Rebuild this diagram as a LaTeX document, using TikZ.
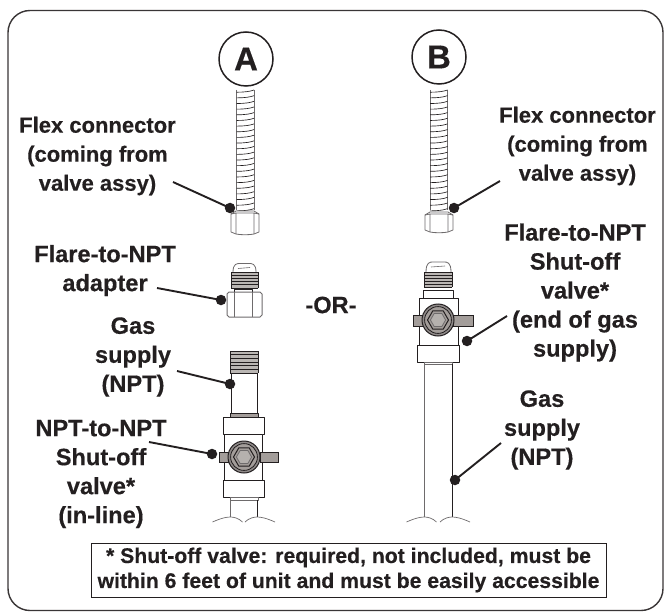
\documentclass[tikz,border=0pt]{standalone}
\usepackage{fontspec}
\setmainfont{Liberation Sans}[BoldFeatures={FakeBold=0.35}]
\usetikzlibrary{calc}
\definecolor{ink}{HTML}{231F20}
\definecolor{hand}{HTML}{A39D9A}
\definecolor{soft}{HTML}{6E6B6C}
\tikzset{
  x=1pt,y=-1pt,
  lab/.style={align=center,text=ink,inner sep=0pt,font=\fontsize{23.6}{29}\selectfont\bfseries},
  flexlab/.style={lab,font=\fontsize{22}{29}\selectfont\bfseries},
  dot/.style={circle,fill=ink,draw=none,minimum size=10.5pt,inner sep=0pt},
  leader/.style={draw=ink,line width=1.9pt},
  part/.style={draw=ink,line width=1pt,line join=round,fill=white},
  thin part/.style={draw=soft,line width=.8pt,line join=round},
  badge/.style={circle,draw=ink,line width=1.5pt,minimum size=54pt,inner sep=0pt,text=ink,font=\fontsize{33}{33}\selectfont\bfseries},
  pipe end/.style={draw=soft,line width=.7pt}
}
% flex hose: x1 x2 y1 y2
\newcommand{\flexhose}[4]{%
  \draw[thin part] (#1,#3) -- (#1,#4) (#2,#3) -- (#2,#4);
  \pgfmathsetmacro{\midx}{(#1+#2)/2}
  \foreach \k in {0,...,21}{
    \pgfmathsetmacro{\yy}{#3+5.65*\k}
    \draw[draw=ink,line width=.65pt] (#1,\yy+2.2) .. controls (\midx,\yy+2.2) and (\midx+5,\yy+1.4) .. (#2,\yy);
  }}
% hex nut of a hose: left right top bottom
\newcommand{\hosenut}[4]{%
  \draw[thin part,fill=white] (#1+5,#3) -- (#2-5,#3) -- (#2,#3+3) -- (#2,#4-3) -- (#2-5,#4-1) .. controls (#2-9,#4) and (#1+9,#4) .. (#1+5,#4-1) -- (#1,#4-3) -- (#1,#3+3) -- cycle;
  \draw[thin part] (#1+5,#3+2) -- (#1+5,#4-1) (#2-5,#3+2) -- (#2-5,#4-1) (#1,#3+3) -- (#1+5,#3+2) -- (#2-5,#3+2) -- (#2,#3+3);}
% thread stack: left right top bottom count
\newcommand{\threadstack}[5]{%
  \fill[hand!75] (#1,#3) rectangle (#2,#4);
  \draw[draw=ink,line width=.9pt] (#1,#3) -- (#1,#4) (#2,#3) -- (#2,#4);
  \foreach \k in {0,...,#5}{
    \pgfmathsetmacro{\yy}{#3+(#4-#3)*\k/#5}
    \draw[draw=ink,line width=.9pt] (#1,\yy) -- (#2,\yy);}}
% flare dome: left right top bottom
\newcommand{\flaredome}[4]{%
  \draw[thin part] (#1,#4) .. controls (#1,#3) and (#1+4,#3) .. (#1+7,#3) -- (#2-7,#3) .. controls (#2-4,#3) and (#2,#3) .. (#2,#4);
  \draw[draw=soft,line width=.6pt] (#1+5,#3+5) -- (#2-6,#3+4);}
% valve face: cx cy l1 l2 r1 r2 top bottom
\newcommand{\valveface}[8]{%
  \draw[draw=ink,line width=.8pt,fill=hand] (#3,#7) rectangle (#4,#8);
  \draw[draw=ink,line width=.8pt,fill=hand] (#5,#7) rectangle (#6,#8);
  \begin{scope}[shift={(#1,#2)}]
    \draw[draw=ink,line width=1pt,fill=hand!60!soft] (0,0) circle[radius=16pt];
    \draw[draw=ink,line width=.8pt,fill=hand] (0,0) circle[radius=13.4pt];
    \draw[draw=ink,line width=1pt,fill=hand] (0:10.5pt) -- (60:10.5pt) -- (120:10.5pt) -- (180:10.5pt) -- (240:10.5pt) -- (300:10.5pt) -- cycle;
    \draw[draw=soft,line width=.8pt,fill=hand!80] (0:7.6pt) -- (60:7.6pt) -- (120:7.6pt) -- (180:7.6pt) -- (240:7.6pt) -- (300:7.6pt) -- cycle;
  \end{scope}}
% broken pipe end: left right
\newcommand{\pipebreak}[2]{%
  \draw[pipe end] (#1-18,522) .. controls (#1-9,518) and (#1-4,517) .. (#1,517) .. controls (#1+3,517) and (#1+8,518) .. (#1+12,522);
  \draw[pipe end] (#2-12,522) .. controls (#2-8,518) and (#2-3,517) .. (#2,517) .. controls (#2+4,517) and (#2+9,518) .. (#2+18,522);}
\begin{document}
\begin{tikzpicture}
\useasboundingbox (0,0) rectangle (668,612);
\fill[white] (0,0) rectangle (668,612);
% frame
\draw[draw=ink!90,line width=1.4pt,rounded corners=22pt] (8,10.5) rectangle (663,610.5);

% --- A column
\node[badge] (A) at (246,59) {A};
\flexhose{236.5}{254}{90}{210}
\hosenut{231}{259}{211}{235}
% adapter
\flaredome{233}{256}{263.5}{272}
\threadstack{231}{258}{272}{288}{5}
\draw[part] (234,289) rectangle (252,292);
\draw[part,draw=soft] (229,292) -- (260,292) -- (262,294) -- (262,315) -- (260,317) -- (229,317) -- (227,315) -- (227,294) -- cycle;
\draw[thin part] (234.5,292) -- (234.5,317) (252,292) -- (252,317);
% gas supply pipe
\threadstack{230}{258}{351}{373}{6}
\draw[part] (231,373) rectangle (257,413);
\draw[part,fill=hand] (230,413) rectangle (258,417);
\draw[part] (223,417) rectangle (264,434);
\draw[part] (224.5,434) rectangle (262.5,480);
\draw[part] (223,480) rectangle (264,497);
\draw[part,draw=soft] (230,497) rectangle (258,500);
\valveface{244}{457}{219.5}{228}{260}{278}{452}{462}
\draw[draw=soft,line width=.9pt] (230.5,500) -- (230.5,517);
\draw[draw=ink,line width=.9pt] (257,500) -- (257,517);
\pipebreak{230.5}{257}

% --- B column
\node[badge] (B) at (439,57) {B};
\flexhose{430}{447.5}{90}{210}
\hosenut{425}{453}{212}{233}
\flaredome{426}{451}{262}{272}
\threadstack{424}{452}{272}{287}{5}
\draw[part] (423,290) rectangle (453,298);
\draw[part] (419,298) rectangle (458,345);
\draw[part] (417,345) rectangle (459,362);
\draw[part,draw=soft] (424.5,362) rectangle (452,364);
\valveface{438}{320}{413.5}{423}{453}{473}{315}{326}
\draw[draw=soft,line width=.9pt] (424.5,364) -- (424.5,517);
\draw[draw=ink,line width=.9pt] (452,364) -- (452,517);
\pipebreak{424.5}{452}

% --- labels
\node[flexlab] (l1) at (97.5,156) {Flex connector\\(coming from\\valve assy)};
\node[flexlab] (l2) at (577.5,146) {Flex connector\\(coming from\\valve assy)};
\node[lab] (l3) at (105,270.5) {Flare-to-NPT\\adapter};
\node[lab] (l4) at (133,357) {Gas\\supply\\(NPT)};
\node[lab] (l5) at (101,474) {NPT-to-NPT\\Shut-off\\valve*\\(in-line)};
\node[lab] (or) at (331,305) {-OR-};
\node[lab] (l6) at (575,292.5) {Flare-to-NPT\\Shut-off\\valve*\\(end of gas\\supply)};
\node[lab] (l7) at (542,430) {Gas\\supply\\(NPT)};
\node[draw=ink,line width=.8pt,fill=white,text=ink,align=center,inner sep=0pt,minimum width=515pt,minimum height=54pt,font=\fontsize{21.2}{25}\selectfont\bfseries] (note) at (348.5,570)
 {* Shut-off valve: required, not included, must be\\within 6 feet of unit and must be easily accessible};

% --- leaders
\node[dot] (d1) at (230,208) {};
\node[dot] (d2) at (454,208) {};
\node[dot] (d3) at (221,300) {};
\node[dot] (d4) at (230,384) {};
\node[dot] (d5) at (212,454) {};
\node[dot] (d6) at (467,341) {};
\node[dot] (d7) at (455,480) {};
\coordinate (s1) at (173,182);
\coordinate (s2) at (500,181);
\coordinate (s3) at (157,288);
\coordinate (s4) at (177,371);
\coordinate (s5) at (149,442);
\coordinate (s6) at (507,316);
\coordinate (s7) at (501,443);
\foreach \a/\b in {s1/d1,s2/d2,s3/d3,s4/d4,s5/d5,s6/d6,s7/d7}{\draw[leader] (\a) -- (\b.center);}
\end{tikzpicture}
\end{document}
